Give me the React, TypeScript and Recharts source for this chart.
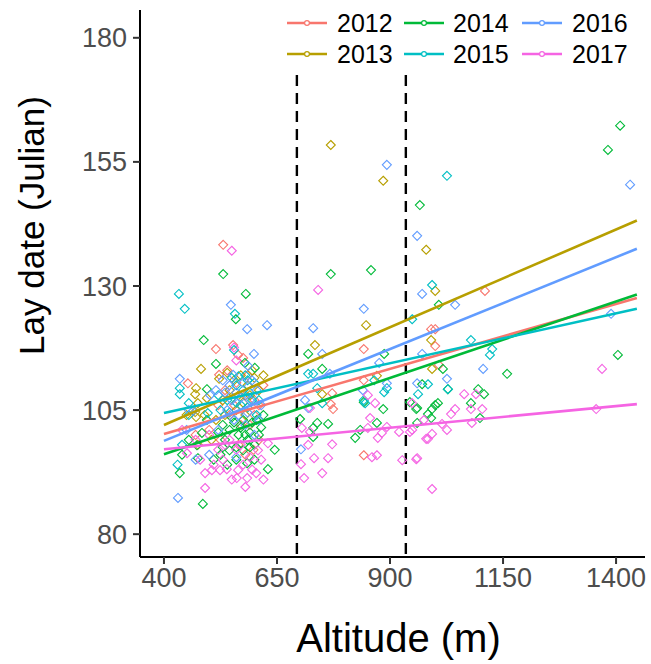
import React from 'react';
import { ScatterChart, Scatter, XAxis, YAxis, ReferenceLine } from 'recharts';

const years = ['2012', '2013', '2014', '2015', '2016', '2017'];
const colors = ['#F8766D', '#B79F00', '#00BA38', '#00BFC4', '#619CFF', '#F564E3'];
const xTicks = [400, 650, 900, 1150, 1400];
const yTicks = [80, 105, 130, 155, 180];
const cutoffs = [694, 935];

const pts2012: number[][] = [
  [531,138.3],[515,117.3],[553,118.1],[564,116.1],[575,115.5],[522,112.1],[453,110.4],[842,117.3],[842,111.0],[774,105.2],[769,106.2],[772,108.4],[842,95.9],[1110,129],[991,121.3],[1000,121.3],[1000,117.9],[1008,114.1],
  [540,113],[560,110.5],[580,108],[600,104],[610,106],[590,102],[545,104],[520,106],[500,101],[470,100],[565,98],[598,97],[580,96],[610,99],[600,107],
  [535,109],[555,106],[585,112],[620,110],[570,102],[525,99],
];
const pts2013: number[][] = [
  [769,158.4],[885,151.2],[847,122.1],[734,118.1],[871,111.9],[750,108.2],[980,137.3],[1000,129],[991,119.1],[993,113.3],[482,113.3],[522,111.3],[471,109.4],[469,108.2],[495,107.4],[475,106.4],[469,104.6],[471,103.6],
  [555,111],[570,112],[585,110],[600,111.5],[545,109],[590,108],[610,109],[530,107],[515,103],[490,104],[505,99],[475,98],[560,105],[580,104],[450,104],
  [540,112.5],[565,108],[595,113],[620,112],[535,104],[575,106.5],
];
const pts2014: number[][] = [
  [1409,162.3],[1382,157.4],[966,146.3],[769,132.4],[858,133.2],[1008,126.2],[1404,116.1],[1017,113.3],[1159,112.3],[971,110.2],[1028,109.2],[1095,109.2],[1108,108.2],[1079,106.4],[1099,103.4],[1006,106.4],[1000,106],[993,105.2],[984,104.2],[991,103.4],[958,105.2],[960,102.4],[944,106.6],[960,105.4],[719,116.3],[750,113.3],[887,116.3],[842,106.6],[885,105.2],[701,103.2],[730,101.4],[739,102.4],[730,99.6],[763,102.2],[834,101],[823,99.4],[871,102.4],
  [531,132.4],[581,128.4],[559,123.3],[488,119.1],[515,114.3],[579,114.5],[601,113.5],[495,109.2],[484,100.4],[473,97.9],[475,95.3],[435,92.3],[486,86.1],[630,93.1],[584,94.3],[530,97.5],[545,96.9],[560,97.5],[575,96.9],[590,97.5],[520,100.5],[545,101],[565,100],[590,100.5],[610,100],[530,102],[555,102.5],[575,103],[595,102.5],[620,104],[440,96],[455,99],[510,95],[540,94],[600,95],
  [535,99],[550,103.5],[570,101.5],[585,99],[600,98],[615,101.5],[525,96],[560,95],[580,100],[605,103],[645,97],[495,103],
];
const pts2015: number[][] = [
  [1026,152.2],[993,130.2],[949,123.3],[1079,119.1],[1126,117.3],[1121,116.1],[984,110.2],[1028,109.2],[962,108.2],[719,112.3],[730,112.3],[739,109.4],[750,106.4],[865,111],[893,109.4],[887,108.6],[842,107],[845,106.4],
  [433,128.4],[446,125.4],[557,124.4],[555,117.1],[435,109.4],[435,108.2],[455,106.4],[497,104.4],[560,110],[575,109],[590,108.5],[600,110.5],[570,106],[585,105.5],[540,107],[520,108],[610,107],[440,98],[430,94],[455,104],
  [550,111.5],[565,111.8],[580,112],[595,107],[545,104.5],[560,106.5],[605,104],[525,105],[585,111],
];
const pts2016: number[][] = [
  [893,154.4],[1431,150.4],[960,140.1],[971,128.4],[1044,126.2],[842,125.4],[730,121.5],[1389,124.4],[971,116.3],[1106,113.3],[1026,111.3],[960,110.4],[750,116.3],[767,112.3],[876,114.5],[893,110.4],[840,109],[712,107],[719,105.4],[703,97.1],
  [548,126.2],[584,121.3],[628,122.1],[599,116.3],[553,112.1],[586,113.9],[435,111.3],[502,108],[455,105],[464,104.8],[431,87.3],[545,110],[560,108.5],[575,110.5],[590,107],[605,109],[540,105],[565,104],[580,102],[520,101],[500,96],[470,95],[560,95.5],[610,103],[450,101],
  [530,111],[550,107],[570,107.5],[595,111],[615,106],[585,104.5],[555,103],[535,108.5],[600,100],[515,109],
];
const pts2017: number[][] = [
  [550,137.1],[741,129.2],[1369,113.3],[1064,108.2],[1090,108.2],[1104,105.2],[1079,105.2],[949,106.4],[949,101],[1035,104.2],[1044,105.2],[975,103],[1026,101],[1081,102.4],[1356,105.2],[980,99.2],[984,99.2],[993,100.2],[958,95.1],[993,89.1],[1015,102.2],[851,108],[867,106.4],[723,105.4],[705,101.4],[723,100.6],[719,98],[772,98.1],[732,95.3],[763,95.3],[750,92.3],[703,94.1],[710,91.3],[856,103.4],[860,95.5],[873,99.4],[882,100.4],[893,101.6],[851,101.4],[871,95.9],[920,100.6],[927,94.9],[960,95.3],[944,100.6],
  [451,96.3],[491,92.3],[506,92.9],[491,89.3],[524,92.9],[539,93.1],[561,91.3],[584,91.3],[604,92.3],[630,98.3],[608,96.9],[590,95.5],[564,92.9],[545,99],[520,97],[570,98],[500,100],[560,115],[555,117.6],[470,99],[440,101],
  [530,95],[550,91],[575,94],[595,93],[615,95],[535,98],[560,97],[580,89.5],[620,91],[510,94],[480,95],
];
const allPts = [pts2012, pts2013, pts2014, pts2015, pts2016, pts2017];

// regression fit endpoints per year
const fitX = [400, 1446];
const fitStart = [100.2, 102.0, 96.1, 104.4, 98.8, 97.1];
const fitEnd = [127.6, 143.2, 128.3, 125.4, 137.5, 106.2];
const dashTop = 172.5;
const dashBottom = 75.4;

const font = 'Liberation Sans, Arial, sans-serif';

const Diamond = (props: any) => {
  const { cx, cy, fill } = props;
  const r = 4.5;
  return (
    <path
      d={`M${cx},${cy - r}L${cx + r},${cy}L${cx},${cy + r}L${cx - r},${cy}Z`}
      fill="none"
      stroke={fill}
      strokeWidth={1.1}
    />
  );
};

const NoShape = () => <g />;

const LegendBox = () => {
  const colLine = [7, 124, 242];
  const colText = [57, 173, 292];
  const rowY = [23, 54];
  return (
    <svg width={371} height={75} style={{ position: 'absolute', left: 280, top: 0, overflow: 'visible' }}>
      {years.map((yr, i) => {
        const col = Math.floor(i / 2);
        const row = i % 2;
        const y = rowY[row];
        const lx = colLine[col];
        return (
          <g key={yr}>
            <line x1={lx} x2={lx + 40} y1={y} y2={y} stroke={colors[i]} strokeWidth={2.5} />
            <circle cx={lx + 20} cy={y} r={2.4} fill="white" stroke={colors[i]} strokeWidth={1.2} />
            <text x={colText[col]} y={y + 9} fontSize={25} fill="#000" fontFamily={font}>
              {yr}
            </text>
          </g>
        );
      })}
    </svg>
  );
};

export default function App() {
  const seriesData = allPts.map((arr) => arr.map(([x, y]) => ({ x, y })));
  const lineData = fitStart.map((s, i) => [
    { x: fitX[0], y: s },
    { x: fitX[1], y: fitEnd[i] },
  ]);
  return (
    <div style={{ position: 'absolute', left: 0, top: 0, width: 651, height: 664, background: 'white' }}>
      <ScatterChart width={651} height={664} margin={{ top: 10, right: 6, bottom: 47, left: 70 }}>
        <XAxis
          type="number"
          dataKey="x"
          domain={[347, 1464]}
          ticks={xTicks}
          allowDataOverflow
          stroke="#000"
          strokeWidth={2}
          tickLine={{ stroke: '#333', strokeWidth: 2 }}
          tickSize={7}
          tickMargin={4}
          tick={{ fill: '#4D4D4D', fontSize: 27, fontFamily: font }}
          height={60}
          label={{ value: 'Altitude (m)', position: 'insideBottom', offset: -35, dx: 6, fill: '#000', fontSize: 40, fontFamily: font }}
        />
        <YAxis
          type="number"
          dataKey="y"
          domain={[75.4, 185.6]}
          ticks={yTicks}
          allowDataOverflow
          stroke="#000"
          strokeWidth={2}
          tickLine={{ stroke: '#333', strokeWidth: 2 }}
          tickSize={7}
          tickMargin={6}
          tick={{ fill: '#4D4D4D', fontSize: 27, fontFamily: font }}
          width={70}
          label={{ value: 'Lay date (Julian)', angle: -90, position: 'insideLeft', offset: -38, dy: -58, fill: '#000', fontSize: 35, fontFamily: font, style: { textAnchor: 'middle' } }}
        />
        {seriesData.map((d, i) => (
          <Scatter key={'p' + i} name={years[i]} data={d} fill={colors[i]} shape={Diamond} isAnimationActive={false} />
        ))}
        {lineData.map((d, i) => (
          <Scatter
            key={'l' + i}
            data={d}
            fill={colors[i]}
            line={{ stroke: colors[i], strokeWidth: 2.6 }}
            shape={NoShape}
            legendType="none"
            isAnimationActive={false}
          />
        ))}
        {cutoffs.map((c) => (
          <ReferenceLine
            key={c}
            segment={[{ x: c, y: dashTop }, { x: c, y: dashBottom }]}
            stroke="#000"
            strokeWidth={2.4}
            strokeDasharray="11 7"
            ifOverflow="visible"
          />
        ))}
      </ScatterChart>
      <LegendBox />
    </div>
  );
}
